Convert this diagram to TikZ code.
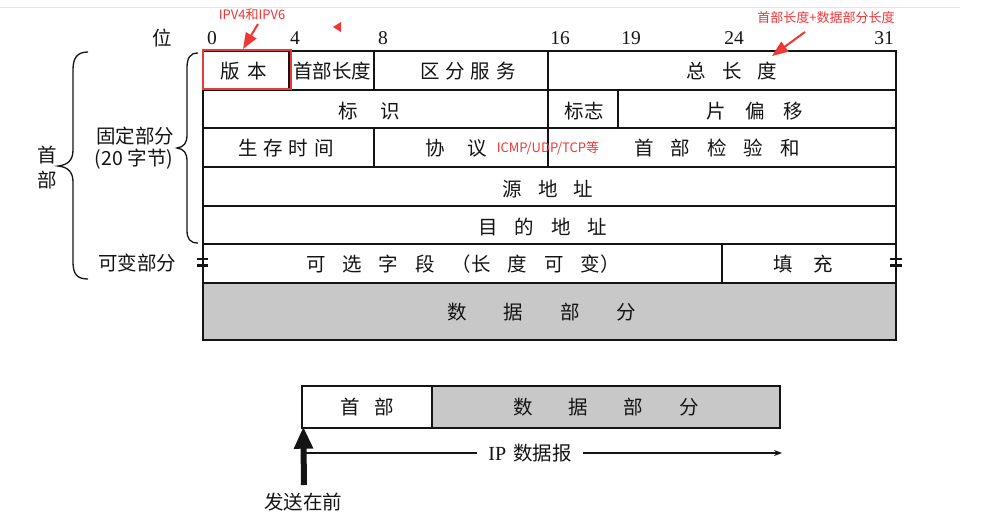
\documentclass[tikz,border=0pt]{standalone}
\usepackage{fontspec}
\setmainfont{Noto Sans CJK SC}
\newfontfamily\numf{Liberation Serif}
\usetikzlibrary{arrows.meta}
\definecolor{annred}{RGB}{238,55,55}
\definecolor{datagray}{RGB}{200,200,200}
\definecolor{inkc}{RGB}{20,20,20}
\newcommand\kg[1]{\hspace{#1pt}}
\tikzset{
  tbl/.style={line width=1.4pt, draw=inkc},
  fld/.style={font=\fontsize{19.5}{22}\selectfont, inner sep=0pt, text=inkc},
  bitnum/.style={font=\numf\fontsize{19.5}{22}\selectfont, inner sep=0pt, text=inkc},
  note/.style={font=\fontsize{13}{15}\selectfont, text=annred, inner sep=0pt},
  redarr/.style={draw=annred, line width=2pt, -{Triangle[width=12pt,length=16pt]}},
  eqbar/.style={line width=2.2pt, draw=inkc},
  brc/.style={line width=1.3pt, draw=inkc},
}
\begin{document}
\begin{tikzpicture}[x=1pt,y=-1pt]
\useasboundingbox (0,0) rectangle (983,524);
\fill[white] (0,0) rectangle (983,524);
\draw[line width=1pt, black!10] (0,8) -- (960,8);

% ---- main table ----
\fill[datagray] (203,283) rectangle (896,340);
\draw[tbl] (203,51) rectangle (896,340);
\foreach \yy in {90,128,167,206,244,283} \draw[tbl] (203,\yy) -- (896,\yy);
\draw[tbl] (289,51) -- (289,90);
\draw[tbl] (374,51) -- (374,90);
\draw[tbl] (548,51) -- (548,128);
\draw[tbl] (618,90) -- (618,128);
\draw[tbl] (374,128) -- (374,167);
\draw[tbl] (548,128) -- (548,167);
\draw[tbl] (722,244) -- (722,283);

% "=" marks
\draw[eqbar] (197,259) -- (208,259) (197,265.5) -- (208,265.5);
\draw[eqbar] (890,259) -- (902,259) (890,265.5) -- (902,265.5);

% bit numbers
\node[fld] (wei) at (162,38) {位};
\node[bitnum] (b0) at (212,38) {0};
\node[bitnum] (b4) at (295,38) {4};
\node[bitnum] (b8) at (383,38) {8};
\node[bitnum] (b16) at (560,38) {16};
\node[bitnum] (b19) at (631,38) {19};
\node[bitnum] (b24) at (734,38) {24};
\node[bitnum] (b31) at (884,38) {31};

% fields
\node[fld] (ver) at (244,71) {版\kg{8}本};
\node[fld] (ihl) at (332,71) {首部长度};
\node[fld] (tos) at (468,71) {区\kg{6}分\kg{6}服\kg{6}务};
\node[fld] (tlen) at (732,71) {总\kg{16}长\kg{16}度};
\node[fld] (ident) at (369,111) {标\kg{23}识};
\node[fld] (flag) at (584,111) {标志};
\node[fld] (frag) at (755,111) {片\kg{19}偏\kg{19}移};
\node[fld] (ttl) at (286,148) {生\kg{6}存\kg{6}时\kg{6}间};
\node[fld] (proto) at (456,148) {协\kg{22}议};
\node[note] (protonote) at (548,148) {ICMP/UDP/TCP等};
\node[fld] (cksum) at (717,148) {首\kg{17}部\kg{17}检\kg{17}验\kg{17}和};
\node[fld] (src) at (548,189) {源\kg{16}地\kg{16}址};
\node[fld] (dst) at (543,227) {目\kg{17}的\kg{17}地\kg{17}址};
\node[fld] (opt) at (463,264) {可\kg{17}选\kg{17}字\kg{17}段\kg{17}（长\kg{17}度\kg{17}可\kg{17}变）};
\node[fld] (pad) at (803,264) {填\kg{21}充};
\node[fld] (data) at (542,312) {数\kg{37}据\kg{37}部\kg{37}分};

% braces and side labels
\draw[brc] (88,52) .. controls (77,52) and (73,58) .. (73,70) -- (73,150)
  .. controls (73,160) and (68,165) .. (58,166)
  .. controls (68,167) and (73,172) .. (73,182) -- (73,262)
  .. controls (73,274) and (77,279) .. (88,279);
\draw[brc] (198,53) .. controls (190,53) and (187,58) .. (187,68) -- (187,135)
  .. controls (187,143) and (184,147) .. (177,148)
  .. controls (184,149) and (187,153) .. (187,161) -- (187,230)
  .. controls (187,239) and (190,243) .. (198,243);
\node[fld] (hdrA) at (47,155) {首};
\node[fld] (hdrB) at (47,180) {部};
\node[fld] (fixA) at (135,136) {固定部分};
\node[fld] (fixB) at (134,159) {(20\kg{5}字节)};
\node[fld] (varp) at (137,263) {可变部分};

% red annotations
\draw[line width=2.6pt, annred] (203,50) rectangle (291,89);
\node[note] (ipv) at (252,15) {IPV4和IPV6};
\coordinate (ipvtail) at (258,24);
\coordinate (vertop) at (243,49);
\draw[redarr] (ipvtail) -- (vertop);
\fill[annred] (333,27) -- (341,22) -- (341,32) -- cycle;
\node[note] (tlnote) at (826,18) {首部长度+数据部分长度};
\coordinate (tltail) at (805,32);
\coordinate (tltip) at (772,56);
\draw[redarr] (tltail) -- (tltip);

% ---- bottom datagram ----
\node[draw=inkc, line width=1.4pt, fill=datagray, minimum width=348pt, minimum height=42pt, inner sep=0pt,
      font=\fontsize{19.5}{22}\selectfont, text=inkc] (pdata) at (606,407) {数\kg{36}据\kg{36}部\kg{36}分};
\node[draw=inkc, line width=1.4pt, fill=white, minimum width=130pt, minimum height=42pt, inner sep=0pt,
      font=\fontsize{19.5}{22}\selectfont, text=inkc] (phdr) at (367,407) {首\kg{15}部};
\node[fld] (dgram) at (530,453) {{\numf\fontsize{20}{22}\selectfont IP}\kg{7}数据报};
\coordinate (dstart) at (305,453);
\coordinate (dend) at (782,453);
\draw[line width=1.3pt, draw=inkc] (dstart) -- ([xshift=-11pt]dgram.west);
\draw[line width=1.3pt, draw=inkc, -{Stealth[length=8pt,width=6pt]}] ([xshift=11pt]dgram.east) -- (dend);
\node[fld] (send) at (303,502) {发送在前};
\coordinate (sendbase) at (304,485);
\draw[line width=6pt, draw=inkc, -{Triangle[width=18pt,length=22pt]}] (sendbase) -- ([xshift=2pt,yshift=2pt]phdr.south west);
\end{tikzpicture}
\end{document}
